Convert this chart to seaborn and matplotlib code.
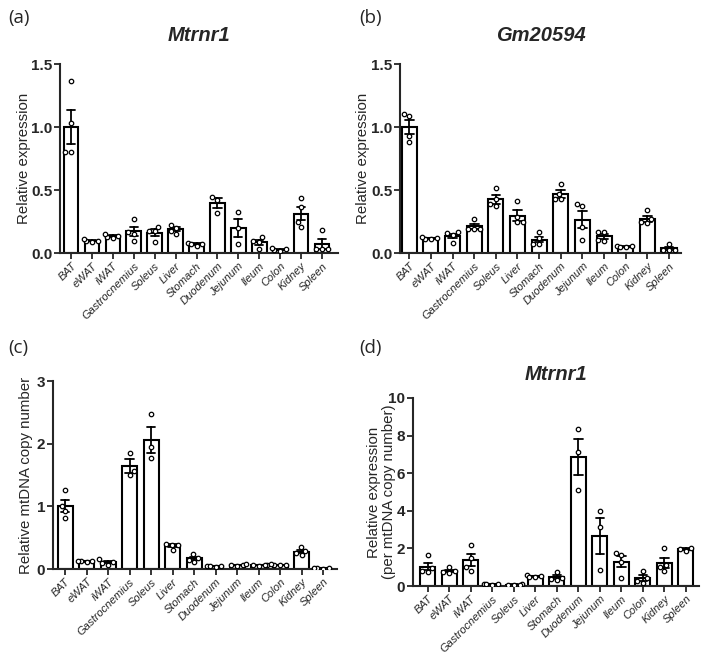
import numpy as np
import pandas as pd
import matplotlib
matplotlib.use('Agg')
import matplotlib.pyplot as plt
import seaborn as sns

tissues = ['BAT', 'eWAT', 'iWAT', 'Gastrocnemius', 'Soleus', 'Liver', 'Stomach',
           'Duodenum', 'Jejunum', 'Ileum', 'Colon', 'Kidney', 'Spleen']

# (a) Mtrnr1 relative expression
mtrnr1_pts = [
    [1.37, 1.03, 0.80, 0.80],
    [0.09, 0.095, 0.10, 0.11],
    [0.12, 0.13, 0.14, 0.155],
    [0.27, 0.17, 0.155, 0.10],
    [0.21, 0.18, 0.175, 0.09],
    [0.225, 0.20, 0.18, 0.155],
    [0.085, 0.075, 0.07, 0.06],
    [0.445, 0.424, 0.317],
    [0.328, 0.203, 0.075],
    [0.13, 0.10, 0.09, 0.035],
    [0.02, 0.025, 0.03, 0.04],
    [0.437, 0.37, 0.245, 0.205],
    [0.185, 0.035, 0.035, 0.035],
]

# (b) Gm20594 relative expression
gm20594_pts = [
    [1.104, 1.091, 0.931, 0.885],
    [0.11, 0.115, 0.12, 0.125],
    [0.165, 0.157, 0.144, 0.083],
    [0.27, 0.195, 0.195, 0.19],
    [0.517, 0.43, 0.389, 0.371],
    [0.416, 0.291, 0.245, 0.245],
    [0.165, 0.117, 0.072, 0.077],
    [0.552, 0.47, 0.427, 0.427],
    [0.387, 0.371, 0.205, 0.101],
    [0.171, 0.171, 0.099, 0.104],
    [0.05, 0.055, 0.055, 0.05],
    [0.341, 0.272, 0.237, 0.245],
    [0.075, 0.025, 0.025, 0.025],
]

# (c) relative mtDNA copy number
mtdna_pts = [
    [1.266, 1.005, 0.926, 0.809],
    [0.12, 0.13, 0.12, 0.11],
    [0.155, 0.11, 0.09, 0.07],
    [1.856, 1.559, 1.50],
    [2.468, 1.947, 1.777],
    [0.39, 0.39, 0.40, 0.30],
    [0.235, 0.18, 0.15, 0.115],
    [0.04, 0.05, 0.055, 0.045],
    [0.05, 0.07, 0.075, 0.06],
    [0.055, 0.065, 0.07, 0.06],
    [0.06, 0.07, 0.075, 0.07],
    [0.35, 0.29, 0.25, 0.22],
    [0.01, 0.012, 0.008, 0.01],
]

# (d) Mtrnr1 per mtDNA copy number
mtrnr1_norm_pts = [
    [1.63, 0.95, 0.80, 0.76],
    [1.0, 0.82, 0.72, 0.68],
    [2.2, 1.5, 1.0, 0.8],
    [0.12, 0.10, 0.08, 0.10],
    [0.08, 0.07, 0.09, 0.07],
    [0.60, 0.55, 0.50, 0.47],
    [0.745, 0.44, 0.32, 0.35],
    [8.35, 7.11, 5.10],
    [3.97, 3.16, 0.85],
    [1.75, 1.65, 1.30, 0.45],
    [0.815, 0.41, 0.28, 0.18],
    [2.0, 1.12, 1.03, 0.80],
    [2.03, 1.97, 1.88],
]


def to_long(pts):
    rows = []
    for t, vals in zip(tissues, pts):
        for v in vals:
            rows.append((t, v))
    return pd.DataFrame(rows, columns=['tissue', 'value'])


sns.set_style('ticks')
plt.rcParams['font.family'] = ['Liberation Sans', 'DejaVu Sans']

fig = plt.figure(figsize=(7.02, 6.56), dpi=100)


def panel(rect, pts, title, ylabel, yticks, ylabels, xlim, letter, letter_xy,
          lpad=3, tpad=17):
    ax = fig.add_axes(rect)
    df = to_long(pts)
    sns.barplot(data=df, x='tissue', y='value', order=tissues, errorbar='se',
                color='white', edgecolor='black', linewidth=1.5, width=0.7,
                capsize=0.4, err_kws={'color': 'black', 'linewidth': 1.3},
                saturation=1, ax=ax)
    sns.swarmplot(data=df, x='tissue', y='value', order=tissues, color='white',
                  edgecolor='black', linewidth=0.9, size=3.2, ax=ax, zorder=3)
    ax.set_ylim(0, yticks[-1])
    ax.set_xlim(*xlim)
    ax.set_yticks(yticks)
    ax.set_yticklabels(ylabels, fontsize=11, fontweight='bold')
    ax.set_xticks(range(len(tissues)))
    ax.set_xticklabels(tissues, rotation=45, ha='right', va='top',
                       rotation_mode='anchor', fontsize=8, style='italic')
    ax.set_xlabel('')
    ax.set_ylabel(ylabel, fontsize=10.8, labelpad=lpad, linespacing=1.05)
    if title:
        ax.set_title(title, fontsize=14.5, fontweight='bold', style='italic', pad=tpad)
    for s in ['left', 'bottom']:
        ax.spines[s].set_linewidth(1.5)
    sns.despine(ax=ax)
    ax.tick_params(axis='both', width=1.3, length=4, direction='out', pad=1.5)
    fig.text(letter_xy[0], letter_xy[1], letter, fontsize=13.5,
             family=['Open Sans', 'DejaVu Sans'], va='center')
    return ax


panel([0.0855, 0.614, 0.396, 0.288], mtrnr1_pts, 'Mtrnr1', 'Relative expression',
      [0, 0.5, 1.0, 1.5], ['0.0', '0.5', '1.0', '1.5'], (-0.53, 12.77), '(a)', (0.012, 0.972),
      lpad=0)
panel([0.570, 0.614, 0.400, 0.288], gm20594_pts, 'Gm20594', 'Relative expression',
      [0, 0.5, 1.0, 1.5], ['0.0', '0.5', '1.0', '1.5'], (-0.42, 12.55), '(b)', (0.512, 0.972),
      lpad=1)
panel([0.0755, 0.1326, 0.4046, 0.2866], mtdna_pts, None, 'Relative mtDNA copy number',
      [0, 1, 2, 3], ['0', '1', '2', '3'], (-0.56, 12.65), '(c)', (0.012, 0.47), lpad=3)
panel([0.588, 0.1067, 0.4074, 0.2866], mtrnr1_norm_pts, 'Mtrnr1',
      'Relative expression\n(per mtDNA copy number)',
      [0, 2, 4, 6, 8, 10], ['0', '2', '4', '6', '8', '10'], (-0.70, 12.6), '(d)', (0.512, 0.47),
      lpad=-5.5, tpad=12.7)

fig.savefig('out.png', dpi=100)
